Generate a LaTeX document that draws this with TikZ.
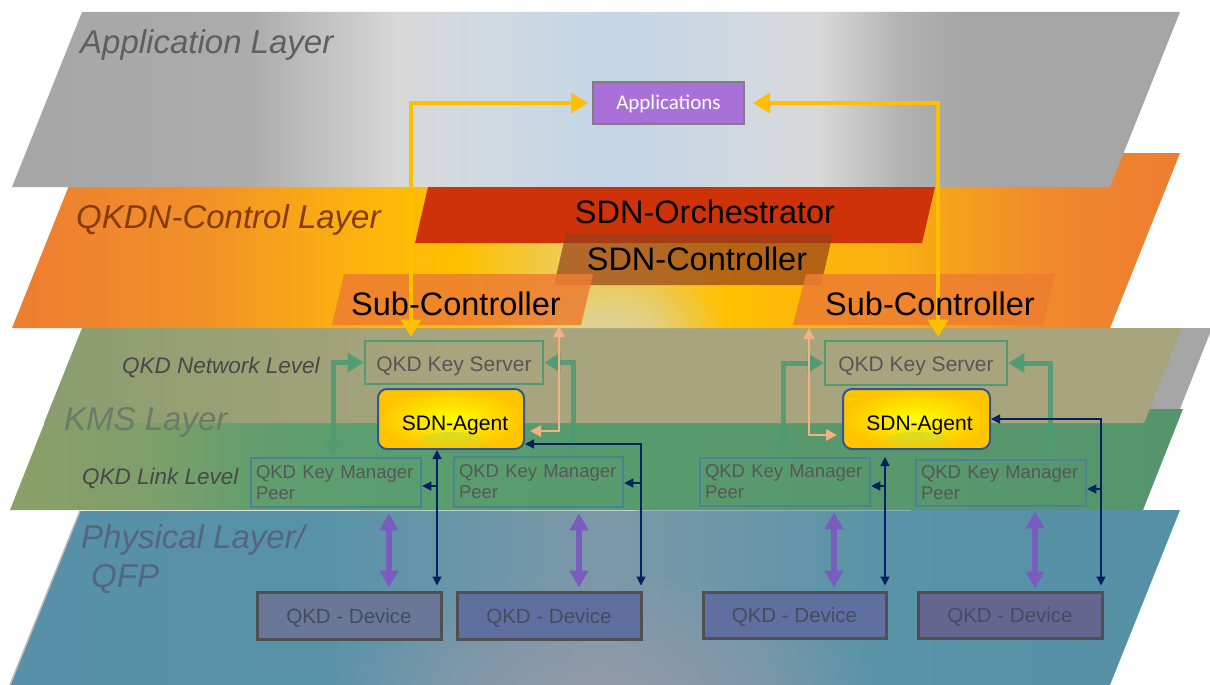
\documentclass[tikz,border=0pt]{standalone}
\usepackage{fontspec}
\setmainfont{Liberation Sans}
\newfontfamily\carlitofont{Carlito}
\usetikzlibrary{arrows.meta,fadings}

% ---------- colours ----------
\definecolor{gA}{HTML}{A6A6A6}
\definecolor{gB}{HTML}{ACACAC}
\definecolor{gC}{HTML}{D8D8D8}
\definecolor{gD}{HTML}{CFD9E2}
\definecolor{gE}{HTML}{C3D5E7}
\definecolor{gF}{HTML}{D3D9DF}
\definecolor{gH}{HTML}{B3B3B3}

\definecolor{oA}{HTML}{ED7D31}
\definecolor{oB}{HTML}{F29028}
\definecolor{oC}{HTML}{FDB70A}
\definecolor{oD}{HTML}{FFC000}
\definecolor{oE}{HTML}{EDCB55}
\definecolor{oF}{HTML}{F2C840}
\definecolor{oG}{HTML}{F8AE12}
\definecolor{oH}{HTML}{F0892C}

\definecolor{kA}{HTML}{8A9D6E}
\definecolor{kB}{HTML}{9AA175}
\definecolor{kC}{HTML}{A8A47E}

\definecolor{nA}{HTML}{8C9F68}
\definecolor{nB}{HTML}{7E9F6A}
\definecolor{nC}{HTML}{619E6E}
\definecolor{nD}{HTML}{599E6F}
\definecolor{nE}{HTML}{56956C}

\definecolor{pA}{HTML}{5790A8}
\definecolor{pB}{HTML}{5892A8}
\definecolor{pC}{HTML}{6C96A8}
\definecolor{pD}{HTML}{7C98A8}
\definecolor{pE}{HTML}{6E97A8}
\definecolor{pF}{HTML}{5893A8}
\definecolor{pG}{HTML}{5590A6}

\definecolor{kmsgray}{HTML}{A6A6A6}
\definecolor{orchred}{HTML}{CD3208}
\definecolor{ctrlbrown}{HTML}{96401A}
\definecolor{subcor}{HTML}{ED7D31}
\definecolor{palecenter}{HTML}{D6D6B8}
\definecolor{physblob}{HTML}{949AAA}

\definecolor{yel}{HTML}{FFC000}
\definecolor{grn}{HTML}{509B73}
\definecolor{navy}{HTML}{002060}
\definecolor{peach}{HTML}{F4B183}
\definecolor{purp}{HTML}{7A5CBE}

\definecolor{ksgreen}{HTML}{529A74}
\definecolor{kmpblue}{HTML}{4B8296}
\definecolor{boxtxt}{HTML}{575757}
\definecolor{agentblue}{HTML}{2F5597}
\definecolor{agY}{HTML}{FFFF00}
\definecolor{agO}{HTML}{FFC400}
\definecolor{glowc}{HTML}{B4DA48}
\definecolor{devborder}{HTML}{505050}
\definecolor{devtxt}{HTML}{464C60}
\definecolor{devA}{HTML}{687896}
\definecolor{devB}{HTML}{5F6FA0}
\definecolor{devD}{HTML}{656690}
\definecolor{appP}{HTML}{A870D8}
\definecolor{appBorder}{HTML}{7F7F7F}

\definecolor{appLbl}{HTML}{5F5F5F}
\definecolor{ctrlLbl}{HTML}{843C0C}
\definecolor{kmsLbl}{HTML}{6C7B68}
\definecolor{levLbl}{HTML}{484848}
\definecolor{physLbl}{HTML}{52677E}

% ---------- shadings (path maps to 25bp..75bp) ----------
\pgfdeclarehorizontalshading{appshade}{100bp}{color(0bp)=(gA); color(25bp)=(gA); color(35.2bp)=(gB); color(41.6bp)=(gC); color(45.9bp)=(gD); color(51bp)=(gE); color(57bp)=(gF); color(59.6bp)=(gC); color(63bp)=(gH); color(65.6bp)=(gA); color(100bp)=(gA)}
\pgfdeclarehorizontalshading{orangeshade}{100bp}{color(0bp)=(oA); color(25bp)=(oA); color(33bp)=(oB); color(40.7bp)=(oC); color(44.2bp)=(oD); color(48.5bp)=(oE); color(52.3bp)=(oF); color(55.7bp)=(oD); color(63bp)=(oG); color(69.4bp)=(oH); color(75bp)=(oA); color(100bp)=(oA)}
\pgfdeclarehorizontalshading{khakishade}{100bp}{color(0bp)=(kA); color(25bp)=(kA); color(34bp)=(kB); color(42.8bp)=(kC); color(100bp)=(kC)}
\pgfdeclarehorizontalshading{greenshade}{100bp}{color(0bp)=(nA); color(25bp)=(nA); color(31bp)=(nB); color(35.7bp)=(nC); color(41.6bp)=(nD); color(75bp)=(nE); color(100bp)=(nE)}
\pgfdeclarehorizontalshading{physshade}{100bp}{color(0bp)=(pA); color(25bp)=(pA); color(38.2bp)=(pB); color(45.1bp)=(pC); color(50.2bp)=(pD); color(55.3bp)=(pE); color(62.2bp)=(pF); color(75bp)=(pG); color(100bp)=(pG)}

\tikzfading[name=blob, inner color=transparent!0, outer color=transparent!100]

\tikzset{
  ytip/.tip={Triangle[length=17pt,width=20pt]},
  gtip/.tip={Triangle[length=16pt,width=19pt]},
  ntip/.tip={Triangle[length=9pt,width=9pt]},
  ptip/.tip={Triangle[length=11pt,width=11pt]},
  utip/.tip={Triangle[length=17pt,width=18pt]},
  yarrow/.style={draw=yel, line width=4pt, ytip-ytip},
  garrow/.style={draw=grn, draw opacity=0.9, line width=5pt, gtip-gtip},
  nboth/.style={draw=navy, line width=1.2pt, ntip-ntip},
  none/.style={draw=navy, line width=1.2pt, -ntip},
  parrow/.style={draw=peach, line width=2.5pt, ptip-ptip},
  uarrow/.style={draw=purp, line width=6pt, utip-utip},
  lbl/.style={inner sep=0pt, anchor=base west, font=\fontsize{33}{39}\selectfont\itshape},
  sublbl/.style={inner sep=0pt, anchor=base west, text=levLbl, font=\fontsize{22.5}{27}\selectfont\itshape},
  bigtxt/.style={inner sep=0pt, anchor=base, text=black, font=\fontsize{32.5}{38}\selectfont},
  ksbox/.style={rectangle, inner sep=0pt, draw=ksgreen, line width=2.7pt, minimum width=178pt, minimum height=43pt, text=boxtxt, text height=17pt, text depth=0pt, font=\fontsize{21}{25}\selectfont},
  kmpbox/.style={rectangle, inner ysep=0pt, inner xsep=5pt, draw=kmpblue, line width=2.5pt, text width=160pt, align=left, minimum height=49pt, text=boxtxt, font=\fontsize{18.5}{21}\selectfont},
  agent/.style={rectangle, rounded corners=9pt, draw=agentblue, line width=2pt, inner color=agY, outer color=agO, minimum width=146pt, minimum height=60pt, text=black, text height=22pt, text depth=0pt, font=\fontsize{21}{25}\selectfont,
    path picture={\fill[glowc, fill opacity=0.8, path fading=blob] (path picture bounding box.south) ++(0,-6) ellipse (34 and 11);}},
  devbox/.style={rectangle, inner sep=0pt, draw=devborder, line width=3pt, minimum width=184pt, minimum height=47pt, text=devtxt, text height=15pt, text depth=0pt, font=\fontsize{20.5}{24}\selectfont},
  appbox/.style={rectangle, fill=appP, draw=appBorder, line width=2pt, minimum width=151pt, minimum height=42pt, text=white, text height=12.6pt, text depth=0pt, font=\carlitofont\fontsize{21}{25}\selectfont},
}

\begin{document}
\begin{tikzpicture}[x=1pt,y=-1pt]
\useasboundingbox (0,0) rectangle (1210,685);
\fill[white] (0,0) rectangle (1210,685);

% ---------- Physical layer ----------
\shade[shading=physshade] (80,511) -- (1180,510) -- (1110,685) -- (10,685) -- cycle;
\begin{scope}
  \clip (80,511) -- (1180,510) -- (1110,685) -- (10,685) -- cycle;
  \fill[physblob, path fading=blob] (600,700) ellipse (280 and 130);
\end{scope}
\draw[gray!55, line width=1.5pt] (80,511) -- (10,685);

% ---------- KMS layer ----------
\fill[kmsgray] (700,328) -- (1210,328) -- (1210,333) -- (1180,409) -- (700,409) -- cycle;
\shade[shading=greenshade] (50,409) -- (1183,409) -- (1143,510) -- (10,510) -- cycle;
\shade[shading=khakishade] (82,328) -- (1182,328) -- (1144,423) -- (44,423) -- cycle;

% ---------- QKDN-Control layer ----------
\shade[shading=orangeshade] (82,153) -- (1180,153) -- (1110,328) -- (12,328) -- cycle;
\begin{scope}
  \clip (82,153) -- (1180,153) -- (1110,328) -- (12,328) -- cycle;
  \fill[palecenter, fill opacity=0.85, path fading=blob] (612,335) ellipse (115 and 65);
\end{scope}

% ---------- Application layer ----------
\shade[shading=appshade] (82,12) -- (1180,12) -- (1110,187) -- (12,187) -- cycle;

% ---------- control-plane blocks ----------
\fill[orchred] (428,187) -- (935,187) -- (922,243) -- (415,243) -- cycle;
\fill[ctrlbrown, opacity=0.7] (566,233) -- (833,233) -- (821,285) -- (554,285) -- cycle;
\fill[subcor, opacity=0.85] (344,274) -- (593,274) -- (581,325) -- (332,325) -- cycle;
\fill[subcor, opacity=0.85] (806,274) -- (1055,274) -- (1043,325) -- (793,325) -- cycle;

% ---------- boxes ----------
\node[appbox] (app) at (668.5,103) {Applications};
\node[ksbox] (ks1) at (454,362.5) {QKD Key Server};
\node[ksbox, minimum width=182pt, minimum height=44pt] (ks2) at (916,363) {QKD Key Server};
\node[kmpbox] (kmp1) at (336,482.5) {QKD Key Manager\\Peer};
\node[kmpbox, text width=159pt, minimum height=50pt] (kmp2) at (538.5,482) {QKD Key Manager\\Peer};
\node[kmpbox, minimum height=48pt] (kmp3) at (785,482) {QKD Key Manager\\Peer};
\node[kmpbox, minimum height=46pt] (kmp4) at (1001,483) {QKD Key Manager\\Peer};
\node[devbox, fill=devA] (dev1) at (349,615.5) {QKD - Device};
\node[devbox, fill=devB] (dev2) at (549,615.5) {QKD - Device};
\node[devbox, fill=devB, minimum width=183pt, minimum height=46pt] (dev3) at (794.5,615) {QKD - Device};
\node[devbox, fill=devD, minimum height=46pt] (dev4) at (1010,615) {QKD - Device};

% ---------- yellow connectors ----------
\coordinate (y1) at (411,103);
\coordinate (y2) at (938,103);
\draw[yarrow, shorten <=3pt, shorten >=4pt] (ks1.north -| y1) |- (app.west);
\draw[yarrow, shorten <=3pt, shorten >=8pt] (ks2.north -| y2) |- (app.east);

% ---------- labels ----------
\node[lbl, text=appLbl] (lapp) at (80,54) {Application Layer};
\node[lbl, text=ctrlLbl] (lctrl) at (76,228) {QKDN-Control Layer};
\node[lbl, text=kmsLbl] (lkms) at (64,430) {KMS Layer};
\node[lbl, text=physLbl] (lphys) at (81,548) {Physical Layer/};
\node[lbl, text=physLbl] (lqfp) at (91,587) {QFP};
\node[sublbl] (lnet) at (122,373) {QKD Network Level};
\node[sublbl] (llink) at (82,484) {QKD Link Level};

\node[bigtxt] (orch) at (705,223) {SDN-Orchestrator};
\node[bigtxt] (ctrl) at (697,270) {SDN-Controller};
\node[bigtxt] (sc1) at (456,315) {Sub-Controller};
\node[bigtxt] (sc2) at (930,315) {Sub-Controller};

% ---------- agents ----------
\node[agent] (ag1) at (451,419) {\hspace*{8pt}SDN-Agent};
\node[agent, minimum width=147pt] (ag2) at (916.5,419) {\hspace*{6pt}SDN-Agent};

% ---------- green connectors ----------
\coordinate (g1) at (333,0);
\coordinate (g2) at (573,0);
\coordinate (g3) at (783,0);
\coordinate (g4) at (1050,0);
\draw[garrow] (ks1.west) -| (kmp1.north -| g1);
\draw[garrow] (ks1.east) -| (kmp2.north -| g2);
\draw[garrow] (ks2.west) -| (kmp3.north -| g3);
\draw[garrow] (ks2.east) -| (kmp4.north -| g4);

% ---------- purple connectors ----------
\coordinate (u1) at (389,0);
\coordinate (u2) at (579,0);
\coordinate (u3) at (834,0);
\coordinate (u4) at (1035,0);
\draw[uarrow, shorten <=5pt, shorten >=3pt] (kmp1.south -| u1) -- (dev1.north -| u1);
\draw[uarrow, shorten <=5pt, shorten >=3pt] (kmp2.south -| u2) -- (dev2.north -| u2);
\draw[uarrow, shorten <=5pt, shorten >=3pt] (kmp3.south -| u3) -- (dev3.north -| u3);
\draw[uarrow, shorten <=4pt, shorten >=2pt] (kmp4.south -| u4) -- (dev4.north -| u4);

% ---------- navy connectors ----------
\coordinate (n1) at (437,486);
\draw[nboth, shorten >=5pt] (ag1.south -| n1) -- (dev1.north -| n1);
\draw[none] (n1) -- (kmp1.east |- n1);
\coordinate (n2) at (641,444);
\coordinate (n2b) at (641,483);
\draw[nboth, shorten >=5pt] (ag1.east |- n2) -- (n2) -- (dev2.north -| n2);
\draw[none] (n2b) -- (kmp2.east |- n2b);
\coordinate (n3) at (885,486);
\draw[nboth, shorten <=7pt, shorten >=5pt] (ag2.south -| n3) -- (dev3.north -| n3);
\draw[none] (n3) -- (kmp3.east |- n3);
\coordinate (n4) at (1101,489);
\draw[nboth, shorten >=5pt] (ag2.east) -| (dev4.north -| n4);
\draw[none] (n4) -- (kmp4.east |- n4);

% ---------- peach connectors ----------
\coordinate (p1a) at (559,326);
\coordinate (p1) at (559,431);
\draw[parrow, shorten >=5pt] (p1a) -- (p1) -- (ag1.east |- p1);
\coordinate (p2a) at (809,328);
\coordinate (p2) at (809,435);
\draw[parrow, shorten >=5pt] (p2a) -- (p2) -- (ag2.west |- p2);
\end{tikzpicture}
\end{document}
